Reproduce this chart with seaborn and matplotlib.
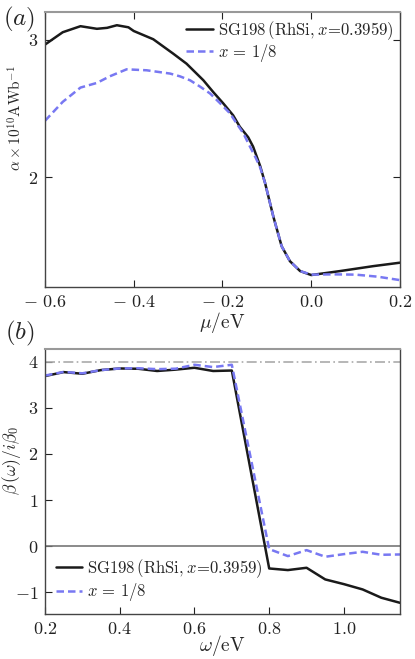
import numpy as np
import pandas as pd
import seaborn as sns
import matplotlib
matplotlib.use("Agg")
import matplotlib.pyplot as plt

# ---------------- data ----------------
# panel (a)
mu_sg198 = [-0.6, -0.56, -0.52, -0.483, -0.46, -0.438, -0.412, -0.40, -0.356, -0.311,
            -0.281, -0.243, -0.221, -0.198, -0.176, -0.161, -0.142, -0.131, -0.115,
            -0.104, -0.0855, -0.0667, -0.048, -0.025, 0.0, 0.065, 0.14, 0.2]
alpha_sg198 = [2.965, 3.055, 3.099, 3.08, 3.087, 3.106, 3.091, 3.064, 3.004, 2.899,
               2.826, 2.705, 2.62, 2.536, 2.45, 2.367, 2.29, 2.222, 2.08,
               1.957, 1.714, 1.497, 1.388, 1.316, 1.287, 1.316, 1.352, 1.377]
mu_x18 = [-0.6, -0.56, -0.52, -0.483, -0.454, -0.416, -0.371, -0.318, -0.296, -0.273,
          -0.251, -0.228, -0.206, -0.183, -0.168, -0.153, -0.138, -0.125, -0.115,
          -0.104, -0.0855, -0.0667, -0.048, -0.025, 0.0, 0.05, 0.1, 0.15, 0.2]
alpha_x18 = [2.41, 2.548, 2.652, 2.686, 2.734, 2.785, 2.778, 2.754, 2.734, 2.705,
             2.66, 2.609, 2.54, 2.464, 2.39, 2.319, 2.222, 2.14, 2.07,
             1.957, 1.714, 1.497, 1.388, 1.316, 1.29, 1.292, 1.29, 1.275, 1.25]

# panel (b)
omega = [0.2, 0.25, 0.3, 0.35, 0.4, 0.45, 0.5, 0.55, 0.6, 0.65, 0.7,
         0.8, 0.85, 0.9, 0.95, 1.0, 1.05, 1.1, 1.15]
beta_sg198 = [3.69, 3.776, 3.74, 3.82, 3.855, 3.848, 3.80, 3.83, 3.87, 3.80, 3.81,
              -0.485, -0.52, -0.47, -0.723, -0.825, -0.94, -1.12, -1.23]
beta_x18 = [3.70, 3.78, 3.75, 3.82, 3.855, 3.86, 3.84, 3.85, 3.935, 3.885, 3.935,
            -0.065, -0.217, -0.087, -0.231, -0.174, -0.123, -0.188, -0.181]
beta_ref_lines = [4.0, 0.0]

label_sg198 = r'$\mathrm{SG198\,(RhSi},x\!=\!0.3959)$'
label_x18 = r'$x\,=\,1/8$'

xticks_a = [-0.6, -0.4, -0.2, 0.0, 0.2]
xticklabels_a = [r'$-\ 0.6$', r'$-\ 0.4$', r'$-\ 0.2$', r'$0.0$', r'$0.2$']
yticks_a = [2, 3]
yticklabels_a = [r'$2$', r'$3$']
xticks_b = [0.2, 0.4, 0.6, 0.8, 1.0]
xticklabels_b = [r'$0.2$', r'$0.4$', r'$0.6$', r'$0.8$', r'$1.0$']
yticks_b = [-1, 0, 1, 2, 3, 4]
yticklabels_b = [r'$-1$', r'$0$', r'$1$', r'$2$', r'$3$', r'$4$']

# ---------------- style ----------------
sns.set_style("ticks")
plt.rcParams['mathtext.fontset'] = 'cm'
plt.rcParams['font.family'] = ['serif']
plt.rcParams['font.serif'] = ['cmr10', 'DejaVu Serif']
plt.rcParams['axes.unicode_minus'] = False

c_black = '#1a1a1a'
c_blue = '#7878f2'

df_a = pd.concat([
    pd.DataFrame({'mu': mu_sg198, 'alpha': alpha_sg198, 'series': label_sg198}),
    pd.DataFrame({'mu': mu_x18, 'alpha': alpha_x18, 'series': label_x18}),
])
df_b = pd.concat([
    pd.DataFrame({'omega': omega, 'beta': beta_sg198, 'series': label_sg198}),
    pd.DataFrame({'omega': omega, 'beta': beta_x18, 'series': label_x18}),
])
palette = {label_sg198: c_black, label_x18: c_blue}
dashes = {label_sg198: '', label_x18: (3, 1.6)}

fig = plt.figure(figsize=(4.15, 6.59), dpi=100)
ax1 = fig.add_axes([0.1084, 0.5645, 0.8554, 0.4168])
ax2 = fig.add_axes([0.1084, 0.0678, 0.8554, 0.4021])

# panel (a)
sns.lineplot(data=df_a, x='mu', y='alpha', hue='series', style='series',
             palette=palette, dashes=dashes, lw=1.8, ax=ax1, sort=False,
             estimator=None)
ax1.set_xlim(-0.6, 0.2)
ax1.set_ylim(1.2, 3.2)
ax1.set_xticks(xticks_a)
ax1.set_xticklabels(xticklabels_a)
ax1.set_yticks(yticks_a)
ax1.set_yticklabels(yticklabels_a)
ax1.tick_params(direction='in', top=True, right=True, length=5, width=0.8,
                labelsize=13, colors='#222222', pad=5)
ax1.set_xlabel(r'$\mu/\mathrm{eV}$', fontsize=14, labelpad=0)
ax1.set_ylabel(r'$\alpha\times 10^{10}\mathrm{AWb}^{-1}$', fontsize=11)
ax1.yaxis.set_label_coords(-0.058, 0.615)
ax1.legend(loc='upper right', frameon=False, fontsize=12, handlelength=1.6,
           handletextpad=0.3, labelspacing=0.0, borderaxespad=0.1, borderpad=0.3)

# panel (b)
for yv, ls, col in zip(beta_ref_lines, [(0, (6, 2, 1, 2)), '-'], ['#aaaaaa', '#777777']):
    ax2.axhline(yv, color=col, lw=1.2, ls=ls, zorder=1)
sns.lineplot(data=df_b, x='omega', y='beta', hue='series', style='series',
             palette=palette, dashes=dashes, lw=1.8, ax=ax2, sort=False,
             estimator=None)
ax2.set_xlim(0.2, 1.15)
ax2.set_ylim(-1.48, 4.27)
ax2.set_xticks(xticks_b)
ax2.set_xticklabels(xticklabels_b)
ax2.set_yticks(yticks_b)
ax2.set_yticklabels(yticklabels_b)
ax2.tick_params(direction='in', length=5, width=0.8, labelsize=13, colors='#222222', pad=5)
ax2.set_xlabel(r'$\omega/\mathrm{eV}$', fontsize=14, labelpad=-3)
ax2.set_ylabel(r'$\beta\,(\omega)/i\beta_0$', fontsize=12.5)
ax2.yaxis.set_label_coords(-0.062, 0.58)
ax2.legend(loc='lower left', frameon=False, fontsize=12, handlelength=1.6,
           handletextpad=0.3, labelspacing=0.1, borderaxespad=0.25)

for ax in (ax1, ax2):
    for side in ('left', 'bottom', 'right'):
        ax.spines[side].set_color('#444444')
        ax.spines[side].set_linewidth(1.0)
    ax.spines['top'].set_color('#999999')
    ax.spines['top'].set_linewidth(1.5)

fig.text(0.008, 0.97, r'$(a)$', fontsize=18, ha='left', va='center')
fig.text(0.012, 0.494, r'$(b)$', fontsize=18, ha='left', va='center')

fig.savefig('out.png', dpi=100)
